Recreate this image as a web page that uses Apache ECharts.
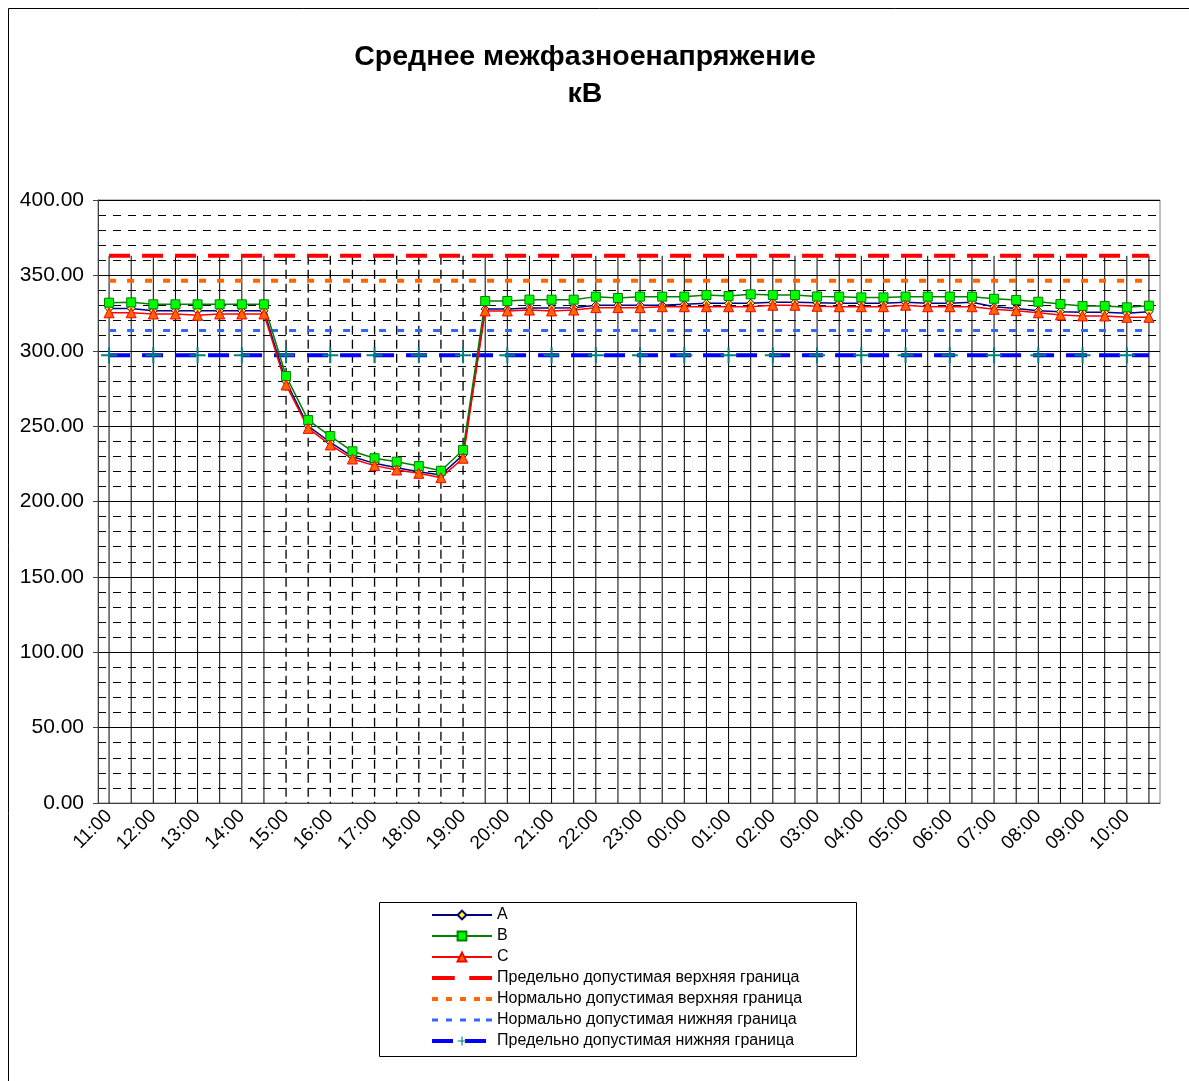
<!DOCTYPE html>
<html>
<head>
<meta charset="utf-8">
<title>Среднее межфазное напряжение</title>
<script src="https://cdn.jsdelivr.net/npm/echarts@6/dist/echarts.min.js"></script>
<style>
  html, body { margin: 0; padding: 0; background: #fff; }
  #chart { width: 1189px; height: 1081px; }
</style>
</head>
<body>
<div id="chart"></div>
<script>
const categories = [
  "11:00", "11:30", "12:00", "12:30", "13:00", "13:30", "14:00", "14:30",
  "15:00", "15:30", "16:00", "16:30", "17:00", "17:30", "18:00", "18:30",
  "19:00", "19:30", "20:00", "20:30", "21:00", "21:30", "22:00", "22:30",
  "23:00", "23:30", "00:00", "00:30", "01:00", "01:30", "02:00", "02:30",
  "03:00", "03:30", "04:00", "04:30", "05:00", "05:30", "06:00", "06:30",
  "07:00", "07:30", "08:00", "08:30", "09:00", "09:30", "10:00", "10:30",
];

const phaseA = [
  328.1, 328.1, 326.5, 326.5, 326.5, 326.5, 326.5, 326.5,
  279.5, 250.0, 239.3, 229.7, 225.3, 222.4, 219.8, 217.6,
  230.9, 327.7, 327.7, 328.4, 328.4, 328.6, 330.2, 330.2,
  330.2, 330.2, 330.8, 331.5, 331.5, 331.5, 332.1, 332.1,
  331.8, 331.5, 331.5, 331.5, 332.1, 331.5, 331.5, 332.1,
  329.2, 328.1, 326.6, 325.9, 325.5, 325.5, 324.8, 325.9,
];

const phaseB = [
  331.9, 332.1, 330.8, 330.8, 330.8, 330.8, 330.8, 330.8,
  283.2, 254.0, 243.4, 233.3, 228.7, 226.4, 223.5, 220.4,
  234.2, 333.0, 333.0, 333.9, 333.9, 333.9, 335.9, 335.0,
  335.9, 335.9, 335.9, 337.0, 336.3, 337.4, 337.0, 337.0,
  336.0, 335.9, 335.4, 335.4, 335.9, 335.9, 335.9, 335.9,
  334.5, 333.7, 332.5, 331.0, 329.7, 329.7, 328.8, 329.9,
];

const phaseC = [
  325.2, 325.2, 324.4, 324.4, 323.5, 324.4, 324.4, 324.4,
  277.3, 248.5, 237.5, 228.2, 223.8, 220.9, 218.7, 215.8,
  228.7, 326.4, 326.4, 327.0, 326.4, 327.0, 328.6, 328.6,
  328.6, 329.2, 329.2, 329.2, 329.2, 329.2, 330.2, 330.2,
  329.5, 329.2, 329.2, 329.2, 330.2, 329.2, 329.2, 329.2,
  327.5, 326.6, 325.2, 323.7, 323.1, 323.1, 322.2, 322.2,
];

// границы, кВ (номинал 330)
const upperMaxLimit = 363;
const upperNormLimit = 346.5;
const lowerNormLimit = 313.5;
const lowerMaxLimit = 297;

const yTicks = [0, 50, 100, 150, 200, 250, 300, 350, 400];

const seriesNames = [
  "A",
  "B",
  "C",
  "Предельно допустимая верхняя граница",
  "Нормально допустимая верхняя граница",
  "Нормально допустимая нижняя граница",
  "Предельно допустимая нижняя граница",
];

const font = '"Liberation Sans", Arial, sans-serif';
const chart = echarts.init(document.getElementById("chart"));

const plusSymbol = "path://M7 0H9V7H16V9H9V16H7V9H0V7H7Z";

// значки легенды для пунктирных границ
const longDashIcon = "path://M0 0H22V4H0Z M36 0H58V4H36Z";
const shortDashIcon = "path://M0 0H6V4H0Z M14 0H20V4H14Z M28 0H34V4H28Z M42 0H48V4H42Z M54 0H60V4H54Z";
const thinDashIcon = "path://M0 0H6V3H0Z M14 0H20V3H14Z M28 0H34V3H28Z M42 0H48V3H42Z M54 0H60V3H54Z";

function limitLine(name, value, color, width, dash) {
  return {
    name: name,
    type: "line",
    data: categories.map(() => value),
    symbol: "none",
    lineStyle: { color: color, width: width, type: dash },
    itemStyle: { color: color },
    z: 3,
  };
}

const option = {
  backgroundColor: "#fff",
  animation: false,
  title: {
    text: "Среднее межфазноенапряжение\nкВ",
    left: 585,
    top: 39,
    padding: 0,
    textAlign: "center",
    textStyle: {
      fontFamily: font,
      fontSize: 28.5,
      fontWeight: "bold",
      lineHeight: 37,
      color: "#000",
    },
  },
  graphic: [
    {
      type: "rect",
      shape: { x: 8.5, y: 8.5, width: 1300, height: 1200 },
      style: { fill: "none", stroke: "#000", lineWidth: 1 },
      silent: true,
      z: -10,
    },
    {
      type: "rect",
      shape: { x: 379.5, y: 902.5, width: 477, height: 154 },
      style: { fill: "#fff", stroke: "#000", lineWidth: 1 },
      silent: true,
      z: -5,
    },
  ],
  legend: {
    data: [
      { name: seriesNames[0] },
      { name: seriesNames[1] },
      { name: seriesNames[2] },
      { name: seriesNames[3], icon: longDashIcon },
      { name: seriesNames[4], icon: shortDashIcon },
      { name: seriesNames[5], icon: thinDashIcon },
      { name: seriesNames[6], lineStyle: { width: 4 } },
    ],
    orient: "vertical",
    left: 430,
    top: 907,
    padding: 0,
    itemWidth: 60,
    itemHeight: 11,
    itemGap: 5,
    textStyle: { fontFamily: font, fontSize: 16, color: "#000", lineHeight: 16 },
  },
  grid: {
    left: 98,
    top: 200,
    width: 1062,
    height: 603,
    show: true,
    borderColor: "#808080",
    borderWidth: 1,
  },
  xAxis: {
    type: "category",
    data: categories,
    boundaryGap: true,
    axisLine: { lineStyle: { color: "#404040", width: 1 } },
    axisTick: { interval: 0, length: 5, lineStyle: { color: "#404040" } },
    axisLabel: {
      interval: 1,
      rotate: 45,
      margin: 10,
      fontFamily: font,
      fontSize: 19,
      color: "#000",
    },
    splitLine: { show: false },
  },
  yAxis: {
    type: "value",
    min: yTicks[0],
    max: yTicks[yTicks.length - 1],
    interval: 50,
    axisLine: { show: true, lineStyle: { color: "#404040", width: 1 } },
    axisTick: { show: true, length: 5, lineStyle: { color: "#404040" } },
    axisLabel: {
      margin: 14,
      fontFamily: font,
      fontSize: 21,
      color: "#000",
      formatter: (v) => v.toFixed(2),
    },
    splitLine: { lineStyle: { color: "#000", width: 1 } },
    minorTick: { show: false, splitNumber: 5 },
    minorSplitLine: { show: true, lineStyle: { color: "#000", width: 1, type: [8, 7] } },
  },
  series: [
    {
      // вертикальные линии проекции от верхней границы до оси
      name: "drop",
      type: "custom",
      silent: true,
      z: 1,
      encode: { x: 0, y: 1 },
      data: categories.map((c, i) => [i, upperMaxLimit]),
      renderItem: (params, api) => {
        const top = api.coord([api.value(0), api.value(1)]);
        const bottom = api.coord([api.value(0), 0]);
        const i = params.dataIndex;
        const dashed = i >= 8 && i <= 16;
        return {
          type: "line",
          shape: { x1: top[0], y1: top[1], x2: bottom[0], y2: bottom[1] },
          style: { stroke: "#000", lineWidth: dashed ? 1.3 : 1, lineDash: dashed ? [9, 5] : null },
        };
      },
    },
    {
      name: "A",
      type: "line",
      data: phaseA,
      symbol: "diamond",
      symbolSize: 8,
      lineStyle: { color: "#000080", width: 1.5 },
      itemStyle: { color: "#FFFF00", borderColor: "#000080", borderWidth: 1 },
      z: 4,
    },
    {
      name: "B",
      type: "line",
      data: phaseB,
      symbol: "rect",
      symbolSize: 9,
      lineStyle: { color: "#008000", width: 1.5 },
      itemStyle: { color: "#00FF00", borderColor: "#008000", borderWidth: 1 },
      z: 4,
    },
    {
      name: "C",
      type: "line",
      data: phaseC,
      symbol: "triangle",
      symbolSize: 10,
      lineStyle: { color: "#FF0000", width: 1.5 },
      itemStyle: { color: "#FF6600", borderColor: "#FF0000", borderWidth: 1 },
      z: 4,
    },
    limitLine(seriesNames[3], upperMaxLimit, "#FF0000", 4, [21, 12]),
    limitLine(seriesNames[4], upperNormLimit, "#FF6600", 4, [7, 11]),
    limitLine(seriesNames[5], lowerNormLimit, "#3366FF", 3, [7, 11]),
    Object.assign(limitLine(seriesNames[6], lowerMaxLimit, "#0000FF", 4, [21, 12]), {
      symbol: plusSymbol,
      symbolSize: 16,
      itemStyle: { color: "#008080" },
    }),
  ],
};

chart.setOption(option);
</script>
</body>
</html>
